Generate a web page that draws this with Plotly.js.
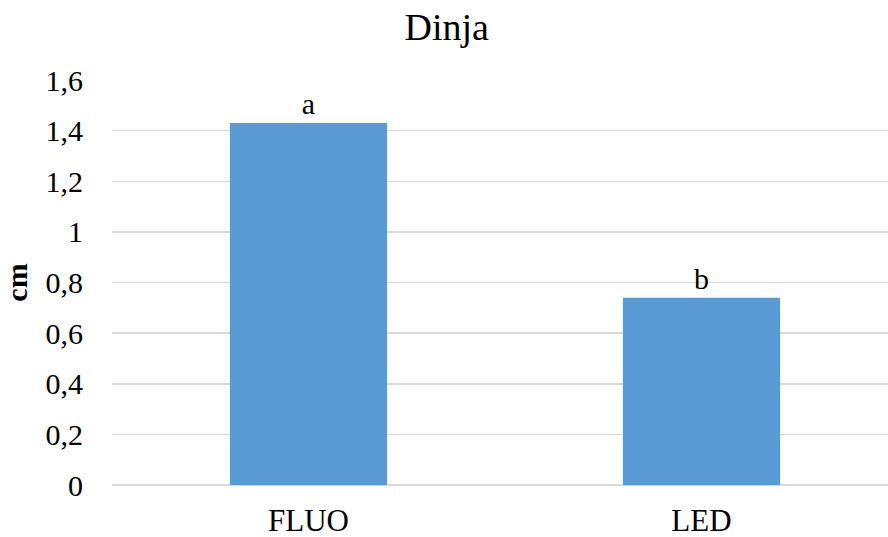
<!DOCTYPE html>
<html>
<head>
<meta charset="utf-8">
<script src="https://cdn.plot.ly/plotly-3.0.1.min.js"></script>
<style>html,body{margin:0;padding:0;background:#fff}#chart{width:888px;height:537px}</style>
</head>
<body>
<div id="chart"></div>
<script>
const categories = ["FLUO", "LED"];
const values = [1.43, 0.74];
const letters = ["a", "b"];
const yTicks = [0, 0.2, 0.4, 0.6, 0.8, 1, 1.2, 1.4, 1.6];

const FONT = '"Liberation Serif", "Times New Roman", serif';

const trace = {
  type: 'bar',
  x: categories,
  y: values,
  text: letters,
  textposition: 'outside',
  textfont: {family: FONT, size: 30, color: '#000'},
  cliponaxis: false,
  width: 0.4,
  marker: {color: '#5B9BD5', line: {width: 0}},
  hoverinfo: 'x+y'
};

const layout = {
  width: 888,
  height: 537,
  margin: {l: 112, r: 0, t: 80, b: 52},
  paper_bgcolor: '#fff',
  plot_bgcolor: '#fff',
  separators: ',.',
  font: {family: FONT, color: '#000', size: 30},
  title: {text: 'Dinja', font: {family: FONT, size: 38, color: '#000'}, x: 0.503, xanchor: 'center', y: 0.975, yanchor: 'top'},
  showlegend: false,
  bargap: 0.6,
  xaxis: {
    type: 'category',
    range: [-0.5, 1.4746],
    showgrid: false,
    showline: false,
    zeroline: false,
    ticks: '',
    tickfont: {family: FONT, size: 31, color: '#000'},
    ticklabelstandoff: 14,
    fixedrange: true
  },
  yaxis: {
    range: [0, 1.6],
    tickvals: yTicks,
    showgrid: true,
    gridcolor: '#d9d9d9',
    gridwidth: 1.5,
    zeroline: true,
    zerolinecolor: '#d9d9d9',
    zerolinewidth: 1.5,
    showline: false,
    ticks: '',
    ticklabelstandoff: 28,
    tickfont: {family: FONT, size: 30, color: '#000'},
    title: {text: '<b>cm</b>', font: {family: FONT, size: 30, color: '#000'}, standoff: 10},
    automargin: false,
    fixedrange: true
  }
};

Plotly.newPlot('chart', [trace], layout, {displayModeBar: false, staticPlot: true});
</script>
</body>
</html>
